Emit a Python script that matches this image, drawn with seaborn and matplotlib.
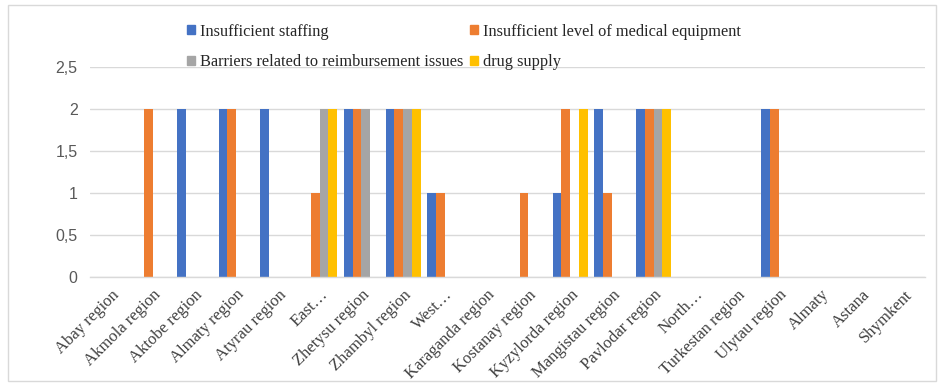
import matplotlib
matplotlib.use("Agg")
import matplotlib.pyplot as plt
from matplotlib.patches import Rectangle
from matplotlib.ticker import FixedLocator
import seaborn as sns
import pandas as pd

regions = ["Abay region", "Akmola region", "Aktobe region", "Almaty region",
           "Atyrau region", "East…", "Zhetysu region", "Zhambyl region",
           "West…", "Karaganda region", "Kostanay region", "Kyzylorda region",
           "Mangistau region", "Pavlodar region", "North…", "Turkestan region",
           "Ulytau region", "Almaty", "Astana", "Shymkent"]

staffing = [0, 0, 2, 2, 2, 0, 2, 2, 1, 0, 0, 1, 2, 2, 0, 0, 2, 0, 0, 0]
equipment = [0, 2, 0, 2, 0, 1, 2, 2, 1, 0, 1, 2, 1, 2, 0, 0, 2, 0, 0, 0]
reimbursement = [0, 0, 0, 0, 0, 2, 2, 2, 0, 0, 0, 0, 0, 2, 0, 0, 0, 0, 0, 0]
drug_supply = [0, 0, 0, 0, 0, 2, 0, 2, 0, 0, 0, 2, 0, 2, 0, 0, 0, 0, 0, 0]

series_names = ["Insufficient staffing", "Insufficient level of medical equipment",
                "Barriers related to reimbursement issues", "drug supply"]
series_colors = ["#4472C4", "#ED7D31", "#A5A5A5", "#FFC000"]

y_ticks = [0, 0.5, 1, 1.5, 2, 2.5]
y_tick_labels = ["0", "0,5", "1", "1,5", "2", "2,5"]

frames = []
for name, vals in zip(series_names, [staffing, equipment, reimbursement, drug_supply]):
    frames.append(pd.DataFrame({"region": regions, "value": vals, "series": name}))
df = pd.concat(frames, ignore_index=True)

sns.set_style("white")
fig = plt.figure(figsize=(9.41, 3.83), dpi=100)
ax = fig.add_axes([90 / 941, 1 - 277 / 383, 835 / 941, 210 / 383])

sns.barplot(data=df, x="region", y="value", hue="series", order=regions,
            hue_order=series_names, palette=series_colors, width=0.84,
            saturation=1, ax=ax, legend=False, errorbar=None,
            linewidth=0, edgecolor="none")

ax.set_ylim(0, 2.5)
ax.set_xlim(-0.5, len(regions) - 0.5)
ax.set_yticks(y_ticks)
ax.set_yticklabels(y_tick_labels, fontsize=11.5, color="#595959",
                   family=["Liberation Sans", "DejaVu Sans"])
ax.yaxis.grid(True, color="#D9D9D9", linewidth=1)
ax.set_axisbelow(True)
ax.set_xlabel("")
ax.set_ylabel("")
for side in ["top", "right", "left"]:
    ax.spines[side].set_visible(False)
ax.spines["bottom"].set_color("#D9D9D9")
ax.spines["bottom"].set_linewidth(1)

ax.set_xticks(range(len(regions)))
ax.set_xticklabels(regions, rotation=45, ha="right", rotation_mode="anchor",
                   fontsize=12, color="#404040",
                   family=["Liberation Serif", "DejaVu Serif"])
ax.tick_params(axis="x", which="major", length=0, pad=7)
ax.tick_params(axis="y", length=0, pad=9)
ax.xaxis.set_minor_locator(FixedLocator([i - 0.5 for i in range(len(regions) + 1)]))
ax.tick_params(axis="x", which="minor", length=5, color="#D9D9D9", width=1)

# legend entries run across rows: staffing | equipment, then reimbursement | drug supply
handles = [Rectangle((0, 0), 1, 1, color=c) for c in series_colors]
order = [0, 2, 1, 3]
fig.legend([handles[i] for i in order], [series_names[i] for i in order],
           loc="upper left", bbox_to_anchor=(180 / 941, 1 - 17 / 383), ncol=2,
           frameon=False,
           prop={"family": ["Liberation Serif", "DejaVu Serif"], "size": 11.8},
           handlelength=0.5, handleheight=0.5, handletextpad=0.3,
           columnspacing=0.4, labelspacing=0.9, borderaxespad=0)

fig.patches.append(Rectangle((8 / 941, 2 / 383), 928 / 941, 376 / 383,
                             transform=fig.transFigure, fill=False,
                             edgecolor="#D9D9D9", linewidth=1))

fig.savefig("out.png", dpi=100)
